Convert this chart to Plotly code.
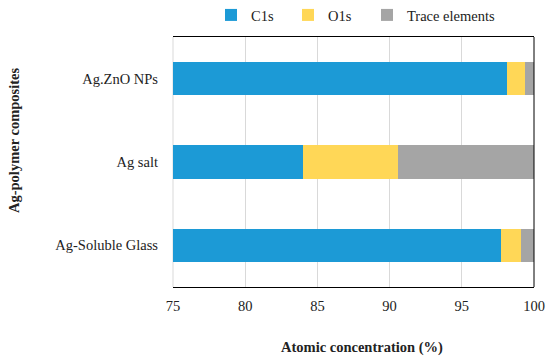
import plotly.graph_objects as go

categories = ["Ag-Soluble Glass", "Ag salt", "Ag.ZnO NPs"]
c1s = [97.7, 84.0, 98.1]
o1s = [1.4, 6.6, 1.3]
trace = [0.9, 9.4, 0.6]
x_ticks = [75, 80, 85, 90, 95, 100]

FONT = "Liberation Serif"
W, H = 550, 364
l, r, t, b = 173, 16, 37, 77
pw, ph = W - l - r, H - t - b

series = [("C1s", c1s, "#1C9AD6", "legend", 211),
          ("O1s", o1s, "#FFD757", "legend2", 288),
          ("Trace elements", trace, "#A5A5A5", "legend3", 367)]

fig = go.Figure()
for name, vals, col, lg, _ in series:
    fig.add_trace(go.Bar(y=categories, x=vals, name=name, orientation="h", legend=lg,
                         marker=dict(color=col, line=dict(width=0))))

legends = {}
for name, vals, col, lg, px in series:
    legends[lg] = dict(orientation="h", x=(px - l) / pw, xanchor="left",
                       y=(H - b - 15) / ph, yanchor="middle",
                       font=dict(size=14.5, family=FONT), itemwidth=30,
                       bgcolor="rgba(0,0,0,0)", borderwidth=0)

fig.update_layout(
    barmode="stack", bargap=0.6,
    width=W, height=H,
    margin=dict(l=l, r=r, t=t, b=b, autoexpand=False),
    paper_bgcolor="white", plot_bgcolor="white",
    font=dict(family=FONT, size=14.5, color="#222"),
    showlegend=True,
    **legends,
    xaxis=dict(range=[75, 100], tickvals=x_ticks, showgrid=True, gridcolor="#D9D9D9",
               gridwidth=1, showline=True, linecolor="black", linewidth=1, mirror=True,
               ticks="", zeroline=False, ticklabelstandoff=6, fixedrange=True),
    yaxis=dict(showline=False, showgrid=False, ticks="", ticklabelstandoff=14),
    shapes=[
        dict(type="line", xref="paper", yref="paper", x0=1, x1=1, y0=0, y1=1,
             line=dict(color="black", width=1)),
        dict(type="line", xref="paper", yref="paper", x0=0, x1=0, y0=0, y1=1,
             line=dict(color="#D9D9D9", width=1), layer="below"),
    ],
    annotations=[
        dict(text="<b>Atomic concentration (%)</b>", xref="paper", yref="paper",
             x=(362 - l) / pw, y=(H - b - 347) / ph, xanchor="center", yanchor="middle",
             showarrow=False, font=dict(size=14.5)),
        dict(text="<b>Ag-polymer composites</b>", xref="paper", yref="paper",
             x=(14 - l) / pw, y=(H - b - 141) / ph, xanchor="center", yanchor="middle",
             showarrow=False, textangle=-90, font=dict(size=14.5)),
    ],
)
fig.write_html("out.html", config={"displayModeBar": False},
               post_script="document.body.style.margin='0';document.body.style.overflow='hidden';")
